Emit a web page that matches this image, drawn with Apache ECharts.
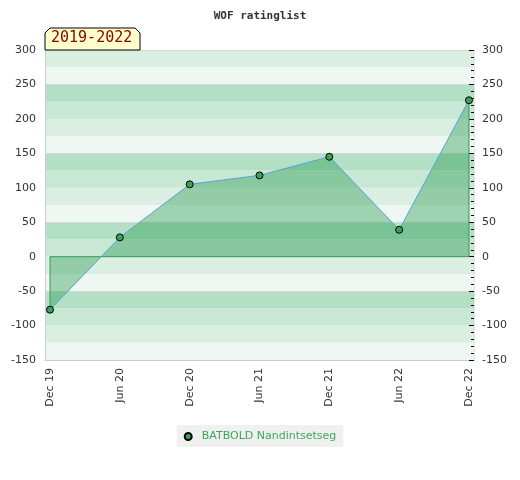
<!DOCTYPE html>
<html><head><meta charset="utf-8">
<script src="https://cdn.jsdelivr.net/npm/echarts@6/dist/echarts.min.js"></script>
<style>html,body{margin:0;padding:0;background:#fff}#c{width:520px;height:480px}</style>
</head><body><div id="c"></div>
<script>
var categories = ['Dec 19','Jun 20','Dec 20','Jun 21','Dec 21','Jun 22','Dec 22'];
var ratings = [-77, 28, 105, 118, 145, 39, 227];
var seriesName = 'BATBOLD Nandintsetseg';
var yTicks = {min: -150, max: 300, step: 50};

var pts = ratings.map(function(v,i){return [i,v];});
var last = ratings.length - 1;
var outline = [[0, ratings[0]], [0, 0], [last, 0], [last, ratings[last]]];
var pad = 0.072;

var chart = echarts.init(document.getElementById('c'));
chart.setOption({
  animation: false,
  title: {text: 'WOF ratinglist', left: 'center', top: 6,
    textStyle: {fontFamily: 'DejaVu Sans Mono', fontWeight: 'bold', fontSize: 11, color: '#333'}},
  grid: {left: 45, right: 46, top: 50, bottom: 120},
  xAxis: {type: 'value', min: -pad, max: last + pad,
    axisLine: {show: true, onZero: false, lineStyle: {color: '#ccc'}},
    axisTick: {show: false}, splitLine: {show: false},
    axisLabel: {customValues: categories.map(function(c,i){return i;}), rotate: 90, margin: 8,
      fontFamily: 'DejaVu Sans', fontSize: 11, color: '#333',
      formatter: function(v){return categories[Math.round(v)];}}},
  yAxis: [
    {type: 'value', min: yTicks.min, max: yTicks.max, interval: yTicks.step, position: 'left',
      axisLine: {show: true, onZero: false, lineStyle: {color: '#ccc'}}, axisTick: {show: false},
      splitLine: {show: false},
      axisLabel: {margin: 9, fontFamily: 'DejaVu Sans', fontSize: 11, color: '#333'}},
    {type: 'value', min: yTicks.min, max: yTicks.max, interval: yTicks.step, position: 'right',
      axisLine: {show: true, onZero: false, lineStyle: {color: '#e4e4e4'}},
      axisTick: {show: true, inside: true, length: 5, lineStyle: {color: '#000'}},
      minorTick: {show: true, splitNumber: 5, length: 3, lineStyle: {color: '#000'}},
      splitLine: {show: false},
      axisLabel: {margin: 8, fontFamily: 'DejaVu Sans', fontSize: 11, color: '#333'}},
    {type: 'value', min: yTicks.min, max: yTicks.max, interval: 25, show: true,
      axisLine: {show: false}, axisTick: {show: false}, axisLabel: {show: false},
      splitLine: {show: false},
      splitArea: {show: true, areaStyle: {color: ['#eff7f2', '#dbeee2', '#c8e7d4', '#b3dfc4']}}},
    {type: 'value', min: yTicks.min, max: yTicks.max, interval: 100, show: true,
      axisLine: {show: false}, axisTick: {show: false}, axisLabel: {show: false},
      splitLine: {show: true, lineStyle: {color: '#d6d6d6', width: 1}}}
  ],
  legend: {bottom: 33, left: 'center', backgroundColor: '#f0f0f0', padding: [6, 7, 5, 7],
    itemWidth: 7, itemHeight: 7, itemGap: 10,
    textStyle: {color: '#3aaa5a', fontFamily: 'DejaVu Sans', fontSize: 11, padding: [0, 0, 0, 5]},
    data: [{name: seriesName, icon: 'circle'}]},
  graphic: [
    {type: 'polygon', shape: {points: [[45,50],[45,33],[50,28],[135,28],[140,33],[140,50]]},
      style: {fill: '#ffffcc', stroke: '#000', lineWidth: 1}, z: 100},
    {type: 'text', left: 51, top: 31, z: 101,
      style: {text: '2019-2022', fill: '#8b0000', font: '15px "DejaVu Sans Mono"'}}
  ],
  series: [
    {type: 'line', name: 'outline', data: outline, symbol: 'none', silent: true,
      lineStyle: {color: '#3c9c5c', width: 1}, z: 3},
    {type: 'line', name: seriesName, data: pts, symbol: 'circle', symbolSize: 7,
      itemStyle: {color: '#3aa05a', borderColor: '#000', borderWidth: 1},
      lineStyle: {color: '#5aa0d8', width: 1},
      areaStyle: {color: 'rgba(30,150,70,0.38)', opacity: 1, origin: 0}, z: 4}
  ]
});
</script></body></html>
